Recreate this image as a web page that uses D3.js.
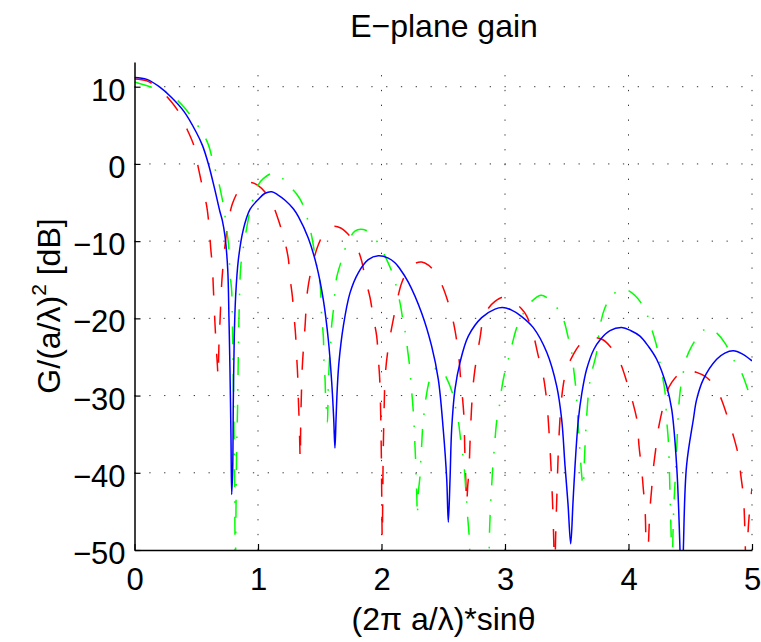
<!DOCTYPE html>
<html><head><meta charset="utf-8">
<script src="https://cdn.jsdelivr.net/npm/d3@7"></script>
<style>body{margin:0;background:#fff}</style>
</head><body>
<svg id="c" width="761" height="642"></svg>
<script>
const xTicks=[0,1,2,3,4,5];
const yTicks=[-50,-40,-30,-20,-10,0,10];
const gridX=[1,2,3,4,5];
const gridY=[-40,-30,-20,-10,0,10];

const blueX=[0,0.1,0.2,0.3,0.4,0.5,0.55,0.6,0.65,0.692,0.711,0.733,0.755,0.765,0.773,0.781,0.787,0.795,0.8,0.808,0.819,0.841,0.881,0.935,1.002,1.057,1.111,1.16,1.219,1.286,1.326,1.407,1.475,1.529,1.569,1.597,1.613,1.623,1.632,1.642,1.656,1.691,1.745,1.812,1.893,1.974,2.055,2.109,2.15,2.217,2.325,2.406,2.46,2.5,2.528,2.541,2.555,2.568,2.595,2.636,2.703,2.811,2.919,2.98,3.05,3.13,3.229,3.338,3.419,3.459,3.486,3.51,3.532,3.55,3.567,3.594,3.621,3.661,3.72,3.769,3.85,3.945,4.02,4.093,4.16,4.228,4.309,4.35,4.39,4.417,4.43,4.444,4.47,4.525,4.552,4.606,4.714,4.78,4.849,4.92,5.0];
const blueY=[11.2,10.95,10.0,8.6,6.8,4.1,2.4,-0.1,-3.3,-6.2,-7.3,-9.4,-13.7,-20.1,-26.6,-35.2,-42.8,-39.5,-30.9,-22.3,-17.1,-12.4,-8.5,-5.9,-4.6,-3.8,-3.6,-4.0,-4.7,-5.8,-6.8,-9.6,-13.2,-17.6,-22.7,-28.3,-33.0,-36.8,-33.0,-29.0,-25.6,-21.0,-16.7,-14.1,-12.4,-11.9,-12.2,-12.8,-13.6,-15.3,-19.3,-23.6,-27.9,-34.4,-40.8,-46.4,-40.8,-34.4,-29.2,-25.7,-22.3,-19.9,-18.8,-18.6,-18.9,-19.7,-21.2,-24.4,-28.8,-33.1,-39.1,-44.0,-49.2,-44.0,-39.1,-33.1,-29.8,-26.6,-24.0,-22.8,-21.6,-21.2,-21.6,-22.3,-23.6,-25.3,-28.8,-31.8,-39.1,-50.0,-60.0,-50.0,-39.1,-33.1,-30.5,-27.9,-25.3,-24.5,-24.2,-24.6,-25.5];

const redX=[0,0.1,0.2,0.274,0.355,0.428,0.482,0.517,0.549,0.585,0.603,0.617,0.63,0.641,0.652,0.662,0.671,0.677,0.684,0.692,0.7,0.708,0.73,0.755,0.792,0.84,0.868,0.94,1.002,1.06,1.111,1.164,1.219,1.245,1.259,1.278,1.294,1.305,1.313,1.321,1.326,1.332,1.337,1.342,1.346,1.352,1.359,1.381,1.402,1.448,1.49,1.543,1.61,1.67,1.73,1.785,1.84,1.866,1.907,1.934,1.961,1.974,1.986,1.993,1.999,2.006,2.013,2.02,2.03,2.048,2.077,2.096,2.125,2.164,2.22,2.27,2.325,2.38,2.43,2.487,2.541,2.581,2.609,2.628,2.641,2.657,2.668,2.674,2.682,2.69,2.697,2.709,2.716,2.728,2.74,2.755,2.771,2.798,2.824,2.87,2.919,2.973,3.02,3.08,3.13,3.176,3.229,3.27,3.31,3.33,3.346,3.365,3.383,3.395,3.402,3.409,3.42,3.435,3.452,3.472,3.5,3.553,3.6,3.661,3.73,3.796,3.85,3.904,3.94,3.972,4.012,4.04,4.07,4.085,4.107,4.12,4.134,4.142,4.15,4.16,4.174,4.188,4.2,4.22,4.241,4.269,4.309,4.35,4.403,4.48,4.552,4.62,4.674,4.72,4.755,4.808,4.849,4.89,4.91,4.93,4.943,4.955,4.968,4.98,5.0];
const redY=[11.0,10.75,9.7,8.5,6.8,4.4,2.3,-0.5,-2.9,-5.5,-7.9,-10.9,-13.2,-17.0,-20.8,-23.8,-26.0,-27.6,-23.2,-20.5,-17.5,-15.0,-11.0,-7.9,-5.2,-3.5,-2.9,-2.4,-2.8,-3.7,-5.0,-7.2,-10.2,-12.2,-14.7,-17.1,-20.1,-22.3,-24.9,-27.3,-30.1,-32.7,-35.5,-38.3,-33.5,-29.5,-26.2,-21.0,-16.3,-12.6,-10.4,-8.8,-8.1,-8.3,-9.1,-10.2,-12.6,-14.7,-17.3,-19.9,-22.3,-25.1,-28.0,-32.0,-38.0,-48.5,-38.5,-32.5,-27.5,-24.6,-21.7,-20.1,-17.8,-15.4,-13.6,-12.9,-12.7,-13.1,-14.0,-15.6,-18.0,-20.4,-22.9,-25.3,-27.9,-30.5,-32.9,-36.8,-40.8,-44.0,-42.0,-39.5,-36.4,-32.0,-29.0,-26.8,-25.1,-22.5,-20.1,-18.6,-17.8,-17.3,-17.4,-18.0,-18.7,-19.7,-22.1,-24.9,-27.5,-29.6,-32.2,-37.0,-43.0,-49.0,-56.0,-49.0,-43.0,-36.0,-31.5,-28.6,-26.5,-24.7,-23.5,-22.7,-22.5,-22.8,-23.6,-24.9,-26.0,-27.5,-29.6,-31.2,-33.3,-36.5,-39.6,-42.1,-44.7,-50.0,-57.0,-50.0,-44.7,-42.0,-39.6,-37.0,-34.4,-32.2,-29.6,-28.3,-27.3,-26.7,-27.0,-27.5,-28.3,-29.4,-30.6,-33.1,-35.2,-37.8,-40.4,-43.0,-47.7,-56.0,-47.7,-45.0,-42.0];

const greenX=[0,0.125,0.22,0.328,0.409,0.482,0.544,0.598,0.638,0.673,0.706,0.727,0.741,0.76,0.768,0.773,0.787,0.792,0.795,0.8,0.805,0.81,0.813,0.816,0.821,0.827,0.834,0.84,0.848,0.862,0.89,0.935,0.962,1.002,1.043,1.119,1.18,1.232,1.313,1.367,1.402,1.435,1.475,1.502,1.51,1.516,1.529,1.534,1.543,1.548,1.556,1.562,1.569,1.58,1.591,1.597,1.61,1.623,1.637,1.678,1.713,1.785,1.853,1.92,1.988,2.042,2.096,2.15,2.177,2.198,2.212,2.231,2.239,2.25,2.26,2.266,2.271,2.277,2.281,2.286,2.29,2.298,2.312,2.318,2.325,2.333,2.344,2.358,2.387,2.42,2.455,2.49,2.52,2.573,2.6,2.622,2.641,2.657,2.671,2.682,2.69,2.697,2.709,2.72,2.76,2.8,2.84,2.868,2.876,2.885,2.892,2.9,2.91,2.919,2.933,2.954,2.968,2.994,3.027,3.054,3.095,3.15,3.216,3.29,3.338,3.419,3.472,3.512,3.54,3.553,3.572,3.58,3.595,3.608,3.622,3.632,3.645,3.66,3.682,3.702,3.742,3.769,3.81,3.869,3.95,4.0,4.05,4.093,4.147,4.188,4.228,4.249,4.269,4.296,4.309,4.322,4.33,4.335,4.34,4.345,4.352,4.36,4.368,4.376,4.39,4.403,4.417,4.444,4.466,4.512,4.593,4.645,4.7,4.781,4.849,4.909,4.957,5.0];
const greenY=[10.6,10.0,9.6,8.5,7.2,5.6,4.2,2.5,0.1,-1.8,-4.2,-6.0,-7.9,-10.2,-12.2,-14.1,-16.5,-20.0,-22.6,-27.5,-33.5,-41.0,-47.0,-55.0,-46.0,-37.0,-32.0,-25.5,-18.5,-13.0,-10.0,-6.1,-4.4,-2.7,-1.9,-1.2,-1.6,-2.5,-3.9,-5.4,-7.2,-9.4,-13.2,-15.4,-17.5,-19.9,-22.3,-25.5,-27.9,-30.5,-32.2,-33.5,-29.0,-25.0,-22.7,-20.8,-19.0,-16.6,-14.7,-12.4,-10.7,-8.7,-8.5,-9.1,-10.7,-12.4,-14.5,-18.0,-20.6,-22.3,-24.2,-26.6,-28.6,-30.5,-32.7,-34.6,-36.5,-38.7,-40.8,-43.0,-45.5,-42.6,-40.4,-38.5,-36.5,-34.2,-32.4,-30.5,-28.1,-26.8,-26.4,-26.7,-27.5,-29.6,-31.6,-33.3,-35.7,-37.5,-39.5,-42.1,-43.8,-45.6,-48.0,-52.0,-60.0,-62.0,-60.0,-52.0,-47.0,-43.5,-41.7,-39.5,-37.5,-35.7,-33.3,-31.4,-29.6,-27.3,-25.3,-23.6,-21.2,-19.3,-17.8,-17.0,-17.3,-18.6,-20.1,-22.5,-24.4,-26.2,-28.8,-30.5,-34.5,-37.5,-40.5,-41.8,-37.5,-33.0,-28.8,-27.0,-24.4,-21.0,-18.6,-17.0,-16.2,-16.4,-17.0,-17.8,-19.4,-21.4,-23.6,-25.3,-27.0,-29.6,-33.1,-35.7,-39.0,-42.0,-45.0,-48.0,-54.0,-48.0,-44.0,-41.5,-37.0,-32.5,-29.6,-27.0,-25.3,-23.6,-21.7,-21.3,-21.7,-23.2,-25.3,-26.8,-28.8,-31.0];

const L=134.5,R=752,T=62,B=550;
const FONT='"Liberation Sans", Arial, Helvetica, sans-serif';
const x=d3.scaleLinear().domain([0,5]).range([L,R]);
const y=d3.scaleLinear().domain([-50,13.2]).range([B,T]);
const svg=d3.select('#c');
svg.append('rect').attr('width',761).attr('height',642).attr('fill','#fff');

// grid
const grid=svg.append('g').attr('stroke','#333').attr('stroke-width',1).attr('stroke-dasharray','1.3,13.5');
grid.selectAll('line.gx').data(gridX).join('line').attr('class','gx')
  .attr('x1',d=>x(d)).attr('x2',d=>x(d)).attr('y1',B).attr('y2',T);
grid.selectAll('line.gy').data(gridY).join('line').attr('class','gy')
  .attr('x1',L).attr('x2',R).attr('y1',d=>y(d)).attr('y2',d=>y(d));

svg.append('clipPath').attr('id','clip').append('rect')
  .attr('x',L).attr('y',T).attr('width',R-L).attr('height',B-T);

const line=d3.line().x(d=>x(d[0])).y(d=>y(d[1])).curve(d3.curveCatmullRom.alpha(0.5));
const plot=svg.append('g').attr('clip-path','url(#clip)').attr('fill','none').attr('stroke-width',1.5);
plot.append('path').datum(d3.zip(redX,redY)).attr('d',line).attr('stroke','#ff0000').attr('stroke-dasharray','18,20');
plot.append('path').datum(d3.zip(greenX,greenY)).attr('d',line).attr('stroke','#00ff00').attr('stroke-dasharray','18,14,1.6,14');
plot.append('path').datum(d3.zip(blueX,blueY)).attr('d',line).attr('stroke','#0000ff');

// axes
const fmt=d3.format('d');
const gx=svg.append('g').attr('transform',`translate(0,${B})`)
  .call(d3.axisBottom(x).tickValues(xTicks).tickSizeInner(-6).tickSizeOuter(0).tickFormat(fmt));
const gy=svg.append('g').attr('transform',`translate(${L},0)`)
  .call(d3.axisLeft(y).tickValues(yTicks).tickSizeInner(-6).tickSizeOuter(0).tickFormat(fmt));
[gx,gy].forEach(g=>{
  g.attr('font-family',FONT).attr('font-size',31);
  g.select('.domain').attr('stroke','#000').attr('stroke-width',1.5);
  g.selectAll('.tick line').attr('stroke','#000').attr('stroke-width',1.2);
  g.selectAll('.tick text').attr('fill','#000');
});
gx.selectAll('.tick text').attr('y',40).attr('dy',null);
gy.selectAll('.tick text').attr('x',-9).attr('dy',13.6);

// title & labels
svg.append('text').attr('x',444).attr('y',37).attr('text-anchor','middle')
  .attr('font-family',FONT).attr('font-size',32).text('E−plane gain');
svg.append('text').attr('x',443.5).attr('y',630).attr('text-anchor','middle')
  .attr('font-family',FONT).attr('font-size',32).text('(2π a/λ)*sinθ');
const yl=svg.append('text').attr('transform','translate(60,306) rotate(-90)').attr('text-anchor','middle')
  .attr('font-family',FONT).attr('font-size',32);
yl.append('tspan').text('G/(a/λ)');
yl.append('tspan').attr('dy',-14).attr('font-size',21).text('2');
yl.append('tspan').attr('dy',14).text(' [dB]');
</script>
</body></html>
